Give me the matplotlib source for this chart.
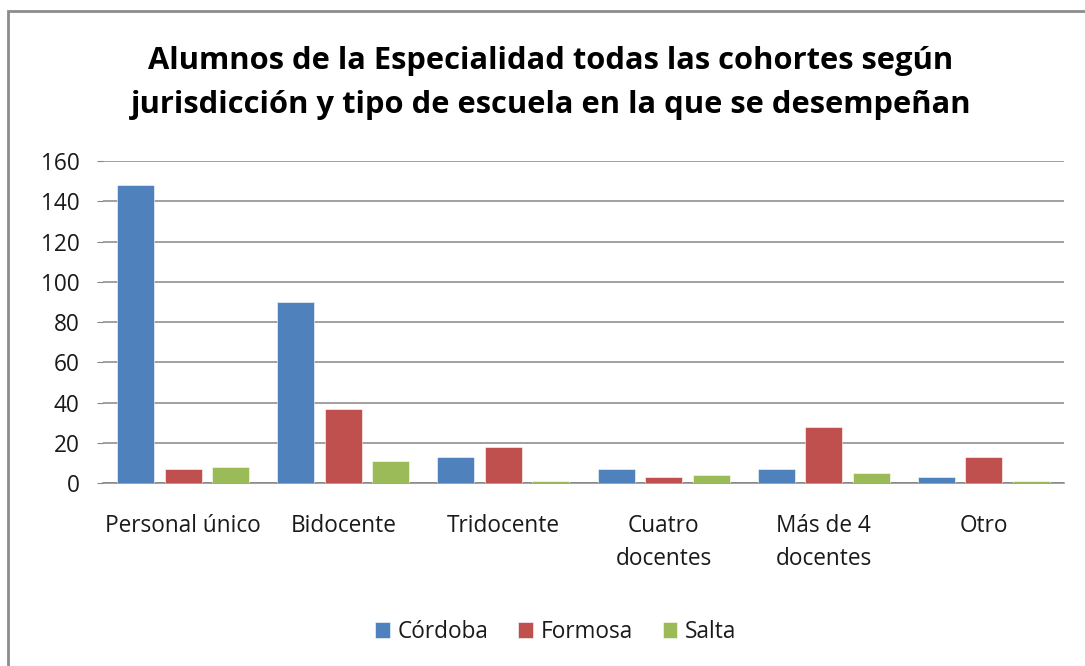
import matplotlib
matplotlib.use("Agg")
import matplotlib.pyplot as plt
from matplotlib.patches import Rectangle
import numpy as np

categories = ["Personal único", "Bidocente", "Tridocente", "Cuatro\ndocentes", "Más de 4\ndocentes", "Otro"]
series_names = ["Córdoba", "Formosa", "Salta"]
cordoba = [148, 90, 13, 7, 7, 3]
formosa = [7, 37, 18, 3, 28, 13]
salta = [8, 11, 1, 4, 5, 1]
yticks = [0, 20, 40, 60, 80, 100, 120, 140, 160]
colors = ["#4F81BD", "#C0504D", "#9BBB59"]

plt.rcParams['font.family'] = ['Open Sans', 'DejaVu Sans']

W, H = 1085, 666
fig = plt.figure(figsize=(W / 100, H / 100), dpi=100)
fig.patch.set_facecolor("white")

# outer chart border (right and bottom edges lie outside the picture)
fig.add_artist(Rectangle((8 / W, -0.5), 1.5, 1.5 - 11 / H, transform=fig.transFigure,
                         fill=False, edgecolor="#8C8C8C", linewidth=2))

ax = fig.add_axes([103 / W, 183 / H, 961 / W, 322 / H])
x = np.arange(len(categories))
step = 0.2966
bw = 0.231
for i, (vals, name) in enumerate(zip([cordoba, formosa, salta], series_names)):
    ax.bar(x + (i - 1) * step, vals, width=bw, color=colors[i], label=name,
           edgecolor="white", linewidth=0.4, zorder=3)

ax.set_xlim(-0.5, len(categories) - 0.5)
ax.set_ylim(0, 160)
ax.set_yticks(yticks)
ax.set_yticklabels([str(v) for v in yticks], fontsize=16.3)
ax.set_xticks(x)
ax.set_xticklabels(categories, fontsize=16.3, linespacing=1.5)
ax.tick_params(axis='x', length=0, pad=22)
ax.tick_params(axis='y', length=4, color="#868686", pad=13)
ax.grid(axis='y', color="#868686", linewidth=1.1, zorder=0)
for s in ["top", "right", "left"]:
    ax.spines[s].set_visible(False)
ax.spines["bottom"].set_color("#868686")
ax.spines["bottom"].set_linewidth(1.1)
for lbl in ax.get_xticklabels():
    lbl.set_va('top')
    lbl.set_color("#1a1a1a")
for lbl in ax.get_yticklabels():
    lbl.set_color("#1a1a1a")

fig.text(551 / W, 1 - 83 / H,
         "Alumnos de la Especialidad todas las cohortes según\njurisdicción y tipo de escuela en la que se desempeñan",
         ha="center", va="center", fontsize=22.2, fontweight="bold", linespacing=1.62)

handles, labels = ax.get_legend_handles_labels()
leg = fig.legend(handles, labels, loc="center", bbox_to_anchor=(556 / W, 1 - 632 / H),
                 ncol=3, frameon=False, fontsize=16.3, handlelength=0.65, handleheight=0.65,
                 handletextpad=0.35, columnspacing=1.3)
for t in leg.get_texts():
    t.set_color("#1a1a1a")

fig.savefig("out.png", dpi=100, facecolor="white")
